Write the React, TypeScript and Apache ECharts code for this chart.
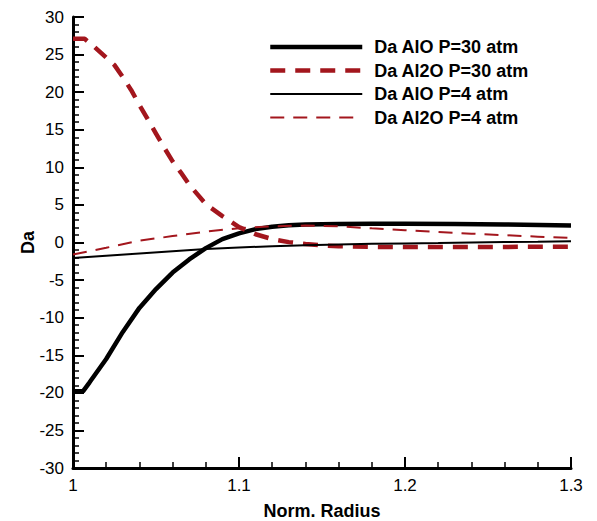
import React, { useEffect, useRef } from "react";
import * as echarts from "echarts";

// Radial positions (normalized radius) and Da profiles for each case
const aloP30X = [1.0, 1.006, 1.01, 1.02, 1.03, 1.04, 1.05, 1.06, 1.07, 1.08, 1.09, 1.1, 1.11, 1.12, 1.13, 1.14, 1.16, 1.18, 1.2, 1.23, 1.26, 1.3];
const aloP30Y = [-19.8, -19.8, -18.6, -15.5, -11.9, -8.7, -6.2, -4.0, -2.25, -0.75, 0.45, 1.22, 1.78, 2.1, 2.28, 2.4, 2.47, 2.5, 2.5, 2.47, 2.4, 2.26];

const al2oP30X = [1.0, 1.007, 1.013, 1.02, 1.025, 1.03, 1.035, 1.04, 1.045, 1.05, 1.055, 1.06, 1.065, 1.07, 1.075, 1.08, 1.085, 1.09, 1.095, 1.1, 1.11, 1.12, 1.13, 1.14, 1.15, 1.16, 1.18, 1.2, 1.25, 1.3];
const al2oP30Y = [27.1, 27.1, 26.0, 24.6, 23.6, 22.0, 20.3, 18.3, 16.4, 14.5, 12.6, 10.8, 9.3, 7.7, 6.4, 5.1, 4.3, 3.5, 2.8, 2.05, 1.1, 0.45, 0.05, -0.2, -0.38, -0.5, -0.58, -0.6, -0.6, -0.55];

const aloP4X = [1.0, 1.02, 1.04, 1.06, 1.08, 1.1, 1.12, 1.14, 1.16, 1.18, 1.2, 1.22, 1.24, 1.26, 1.28, 1.3];
const aloP4Y = [-2.05, -1.75, -1.45, -1.15, -0.85, -0.65, -0.5, -0.35, -0.25, -0.17, -0.12, -0.07, 0.0, 0.05, 0.1, 0.17];

const al2oP4X = [1.0, 1.02, 1.04, 1.06, 1.08, 1.1, 1.12, 1.14, 1.16, 1.18, 1.2, 1.22, 1.24, 1.26, 1.28, 1.3];
const al2oP4Y = [-1.6, -0.7, 0.25, 0.85, 1.45, 1.9, 2.15, 2.26, 2.15, 1.88, 1.63, 1.4, 1.18, 0.97, 0.78, 0.6];

const seriesNames = ["Da AlO P=30 atm", "Da Al2O P=30 atm", "Da AlO P=4 atm", "Da Al2O P=4 atm"];

const RED = "#a3161d";
const FONT = "'Liberation Sans', Arial, Helvetica, sans-serif";

const THICK = 4.5;
const THIN = 2;
const seriesStyles = [
  { color: "#000", width: THICK, type: "solid" as any },
  { color: RED, width: THICK, type: [15, 10] as any },
  { color: "#000", width: THIN, type: "solid" as any },
  { color: RED, width: THIN, type: [14, 9] as any },
];
const seriesData = [
  [aloP30X, aloP30Y],
  [al2oP30X, al2oP30Y],
  [aloP4X, aloP4Y],
  [al2oP4X, al2oP4Y],
];

const zip = (xs: number[], ys: number[]) => xs.map((x, i) => [x, ys[i]]);

export default function App() {
  const ref = useRef<HTMLDivElement>(null);

  useEffect(() => {
    if (!ref.current) return;
    const chart = echarts.init(ref.current, undefined, { renderer: "svg" });

    const series = seriesNames.map((name, i) => ({
      name,
      type: "line",
      data: zip(seriesData[i][0], seriesData[i][1]),
      symbol: "none",
      showSymbol: false,
      smooth: false,
      clip: true,
      lineStyle: { ...seriesStyles[i], cap: "butt" },
      itemStyle: { color: seriesStyles[i].color },
    }));

    chart.setOption({
      animation: false,
      backgroundColor: "#ffffff",
      grid: {
        left: 73,
        right: 26,
        top: 17,
        bottom: 53,
        containLabel: false,
        outerBoundsMode: "none",
      },
      legend: {
        orient: "vertical",
        left: 263,
        top: 33,
        itemWidth: 92,
        itemHeight: 2,
        itemGap: 5.5,
        itemStyle: { opacity: 0 },
        data: seriesNames.map((name, i) => ({
          name,
          itemStyle: { opacity: 0 },
          lineStyle: {
            color: seriesStyles[i].color,
            width: seriesStyles[i].width,
            type: seriesStyles[i].type,
            cap: "butt",
          },
        })),
        textStyle: {
          fontFamily: FONT,
          fontWeight: "bold",
          fontSize: 18,
          color: "#000",
          lineHeight: 18,
          padding: [0, 0, 0, 7],
        },
      },
      xAxis: {
        type: "value",
        min: 1,
        max: 1.3,
        interval: 0.1,
        name: "Norm. Radius",
        nameLocation: "middle",
        nameGap: 34,
        nameMoveOverlap: false,
        nameTextStyle: { fontFamily: FONT, fontWeight: "bold", fontSize: 18, color: "#000" },
        axisLine: { show: true, onZero: false, lineStyle: { color: "#000", width: 3 } },
        axisTick: { show: true, inside: true, length: 11, lineStyle: { color: "#000", width: 2 } },
        minorTick: { show: true, splitNumber: 5, length: 6, lineStyle: { color: "#000", width: 1.5 } },
        axisLabel: {
          fontFamily: FONT,
          fontSize: 17,
          color: "#000",
          margin: 9,
          formatter: (v: number) => String(Math.round(v * 10) / 10),
        },
        splitLine: { show: false },
      },
      yAxis: {
        type: "value",
        min: -30,
        max: 30,
        interval: 5,
        name: "Da",
        nameLocation: "middle",
        nameRotate: 90,
        nameGap: 36,
        nameMoveOverlap: false,
        nameTextStyle: { fontFamily: FONT, fontWeight: "bold", fontSize: 18, color: "#000" },
        axisLine: { show: true, onZero: false, lineStyle: { color: "#000", width: 3 } },
        axisTick: { show: true, inside: true, length: 11, lineStyle: { color: "#000", width: 2 } },
        minorTick: { show: true, splitNumber: 5, length: 6, lineStyle: { color: "#000", width: 1.5 } },
        axisLabel: { fontFamily: FONT, fontSize: 17, color: "#000", margin: 9 },
        splitLine: { show: false },
      },
      series,
    });

    return () => chart.dispose();
  }, []);

  return (
    <div
      ref={ref}
      style={{ position: "fixed", left: 0, top: 0, width: 597, height: 521, background: "#fff" }}
    />
  );
}
